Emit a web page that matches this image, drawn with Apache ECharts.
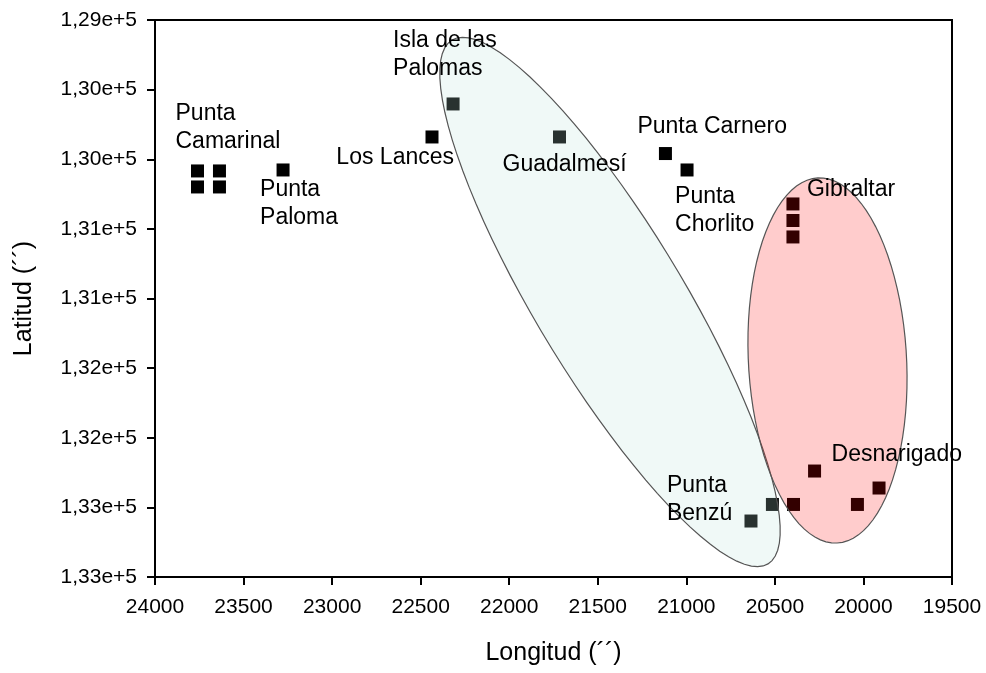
<!DOCTYPE html>
<html>
<head>
<meta charset="utf-8">
<title>Longitud / Latitud</title>
<script src="https://cdn.jsdelivr.net/npm/echarts@6/dist/echarts.min.js"></script>
<style>
  html, body { margin: 0; padding: 0; background: #fff; }
  #chart { width: 986px; height: 673px; }
</style>
</head>
<body>
<div id="chart"></div>
<script>
// sampling points (longitud, latitud)
var pointLon = [23760, 23636, 23760, 23636, 23277, 22436, 22317, 21716, 21118, 20996,
                20398, 20398, 20398, 20276, 19912, 20034, 20395, 20514, 20635];
var pointLat = [130084, 130084, 130199, 130199, 130077, 129840, 129603, 129840, 129959, 130077,
                130321, 130440, 130558, 132239, 132361, 132479, 132479, 132479, 132598];

// site names and the point each one belongs to
var siteNames = ['Punta\nCamarinal', 'Punta\nPaloma', 'Los Lances', 'Isla de las\nPalomas', 'Guadalmesí',
                 'Punta Carnero', 'Punta\nChorlito', 'Gibraltar', 'Desnarigado', 'Punta\nBenzú'];
var siteAnchor = [0, 4, 5, 6, 7, 8, 9, 10, 13, 18];

// group ellipses: centre and two half-axis vectors, in data units
var ellipseCx = [21431, 20203];
var ellipseCy = [131025, 131445];
var ellipseAx = [-892, -54];
var ellipseAy = [1881, 1311];
var ellipseBx = [-358, -446];
var ellipseBy = [-274, -29];

// label offsets in pixels from the anchor point [dx, dy(top), align]
var labelLayout = [
    [-22, -71, 'left'],
    [-23, 6, 'left'],
    [22, 7, 'right'],
    [-60, -77, 'left'],
    [-57, 14, 'left'],
    [-28, -41, 'left'],
    [-12, 13, 'left'],
    [14, -28, 'left'],
    [17, -30, 'left'],
    [-84, -49, 'left']
];
var ellipseFill = ['rgba(185,228,220,0.22)', 'rgba(255,0,0,0.2)'];

var FONT = '"Liberation Sans", Arial, sans-serif';

var chart = echarts.init(document.getElementById('chart'));

var scatterData = pointLon.map(function (x, i) { return [x, pointLat[i]]; });
var ellipseData = ellipseCx.map(function (x, i) { return [x, ellipseCy[i]]; });
var labelData = siteAnchor.map(function (idx) { return [pointLon[idx], pointLat[idx]]; });

chart.setOption({
    animation: false,
    textStyle: { fontFamily: FONT },
    grid: {
        left: 155, right: 34, top: 20, bottom: 96,
        show: true, borderColor: '#000', borderWidth: 2
    },
    xAxis: {
        type: 'value',
        inverse: true,
        min: 19500, max: 24000, interval: 500,
        name: 'Longitud (´´)',
        nameLocation: 'middle',
        nameGap: 64,
        nameTextStyle: { fontSize: 25, color: '#000', fontFamily: FONT },
        axisLine: { lineStyle: { color: '#000', width: 2 } },
        axisTick: { length: 8, lineStyle: { color: '#000', width: 2 } },
        axisLabel: {
            fontSize: 21, color: '#000', margin: 20, fontFamily: FONT,
            formatter: function (v) { return String(v); }
        },
        splitLine: { show: false }
    },
    yAxis: {
        type: 'value',
        inverse: true,
        min: 129000, max: 133000, interval: 500,
        name: 'Latitud (´´)',
        nameLocation: 'middle',
        nameGap: 118,
        nameTextStyle: { fontSize: 25, color: '#000', fontFamily: FONT },
        axisLine: { lineStyle: { color: '#000', width: 2 } },
        axisTick: { length: 8, lineStyle: { color: '#000', width: 2 } },
        axisLabel: {
            fontSize: 21, color: '#000', margin: 18, fontFamily: FONT,
            formatter: function (v) {
                return (Math.round(v / 1000) / 100).toFixed(2).replace('.', ',') + 'e+5';
            }
        },
        splitLine: { show: false }
    },
    series: [
        {
            type: 'scatter',
            symbol: 'rect',
            symbolSize: 13,
            itemStyle: { color: '#000', opacity: 1 },
            data: scatterData,
            z: 2
        },
        {
            type: 'custom',
            z: 3,
            encode: { x: 0, y: 1 },
            data: ellipseData,
            renderItem: function (params, api) {
                var i = params.dataIndex;
                var pts = [];
                for (var k = 0; k <= 90; k++) {
                    var t = k / 90 * Math.PI * 2;
                    var c = Math.cos(t), s = Math.sin(t);
                    pts.push(api.coord([
                        ellipseCx[i] + ellipseAx[i] * c + ellipseBx[i] * s,
                        ellipseCy[i] + ellipseAy[i] * c + ellipseBy[i] * s
                    ]));
                }
                return {
                    type: 'polygon',
                    shape: { points: pts },
                    style: { fill: ellipseFill[i], stroke: '#555', lineWidth: 1.2 }
                };
            }
        },
        {
            type: 'custom',
            z: 4,
            encode: { x: 0, y: 1 },
            data: labelData,
            renderItem: function (params, api) {
                var i = params.dataIndex;
                var p = api.coord([api.value(0), api.value(1)]);
                var lay = labelLayout[i];
                return {
                    type: 'text',
                    x: p[0] + lay[0],
                    y: p[1] + lay[1],
                    style: {
                        text: siteNames[i],
                        fill: '#000',
                        fontSize: 23,
                        fontFamily: FONT,
                        lineHeight: 28,
                        align: lay[2],
                        verticalAlign: 'top'
                    }
                };
            }
        }
    ]
});
</script>
</body>
</html>
